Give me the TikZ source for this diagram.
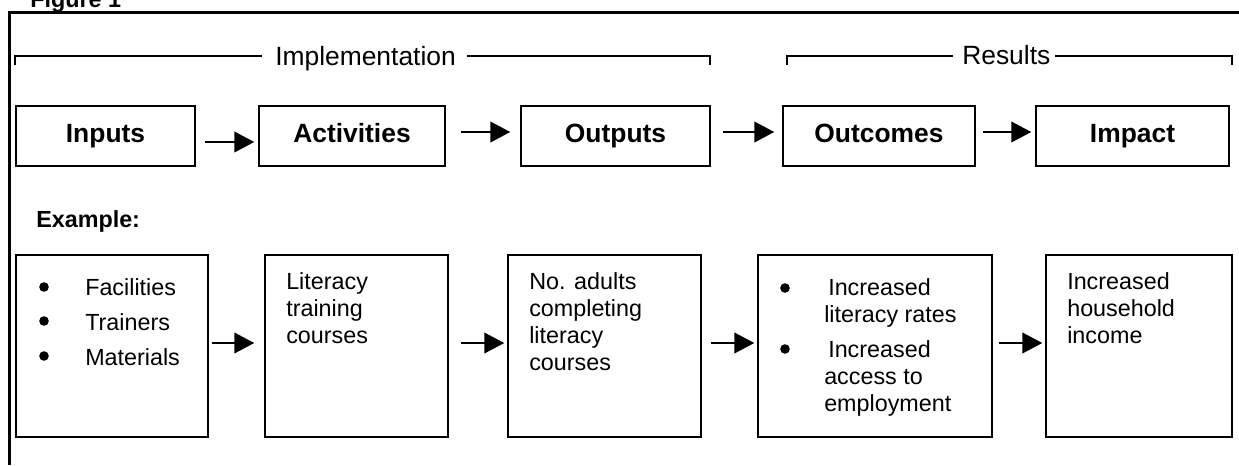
\documentclass[tikz,border=0pt]{standalone}
\usepackage{fontspec}
\setmainfont{Liberation Sans}
\usetikzlibrary{arrows.meta,calc,fit}
\begin{document}
\begin{tikzpicture}[x=0.75pt,y=-0.75pt,
 box/.style={draw, line width=1.1pt, inner sep=0pt},
 head/.style={font=\fontsize{19.8pt}{23pt}\selectfont, inner sep=0pt, anchor=base west},
 headb/.style={font=\fontsize{19.8pt}{23pt}\selectfont\bfseries, inner sep=0pt, anchor=base},
 body/.style={font=\fontsize{17.5pt}{20pt}\selectfont, inner sep=0pt, anchor=base west},
 bodyb/.style={font=\fontsize{17.5pt}{20pt}\selectfont\bfseries, inner sep=0pt, anchor=base west},
 arr/.style={line width=1.5pt, -{Triangle[length=15pt,width=15.5pt]}},
 brk/.style={line width=1pt},
 frame/.style={line width=2pt}
]
\useasboundingbox (0,0) rectangle (1239,465);

% outer frame and title
\draw[frame] (9.5,465) -- (9.5,12.5) -- (1239,12.5);
\node[bodyb] (fig) at (30,7) {Figure 1};

% brackets
\node[head] (impl) at (275,65) {Implementation};
\node[head] (res) at (962,64) {Results};
\coordinate (iL) at (15,65);
\coordinate (iR) at (710,65);
\coordinate (rL) at (787,65);
\coordinate (rR) at (1232,65);
\draw[brk] (iL) -- (15,56) -- (262,56);
\draw[brk] (467,56) -- (710,56) -- (iR);
\draw[brk] (rL) -- (787,56) -- (953,56);
\draw[brk] (1055,56) -- (1232,56) -- (rR);

% top boxes
\node[box, fit={(16,106)(195,166)}] (inp) {};
\node[box, fit={(259,106)(445,166)}] (act) {};
\node[box, fit={(521,106)(710,166)}] (outp) {};
\node[box, fit={(783,106)(975,166)}] (outc) {};
\node[box, fit={(1036,106)(1229,166)}] (imp) {};
\node[headb] (inpT) at ($(inp.center)+(0,6)$) {Inputs};
\node[headb] (actT) at ($(act.center)+(0,6)$) {Activities};
\node[headb] (outpT) at ($(outp.center)+(0,6)$) {Outputs};
\node[headb] (outcT) at ($(outc.center)+(0,6)$) {Outcomes};
\node[headb] (impT) at ($(imp.center)+(0,6)$) {Impact};

\draw[arr] ($(inp.east)+(9,6)$) -- ($(act.west)+(-4,6)$);
\draw[arr] ($(act.east)+(15,-4)$) -- ($(outp.west)+(-10,-4)$);
\draw[arr] ($(outp.east)+(12,-4)$) -- ($(outc.west)+(-8,-4)$);
\draw[arr] ($(outc.east)+(7,-4)$) -- ($(imp.west)+(-4,-4)$);

\node[bodyb] (ex) at (36,227) {Example:};

% bottom boxes
\node[box, fit={(16,255)(208,437)}] (ex1) {};
\node[box, fit={(265,255)(448,437)}] (ex2) {};
\node[box, fit={(508,255)(701,437)}] (ex3) {};
\node[box, fit={(758,255)(992,437)}] (ex4) {};
\node[box, fit={(1046,255)(1232,437)}] (ex5) {};

\draw[arr] ($(ex1.east)+(3,-3)$) -- ($(ex2.west)+(-10,-3)$);
\draw[arr] ($(ex2.east)+(12,-3)$) -- ($(ex3.west)+(-3,-3)$);
\draw[arr] ($(ex3.east)+(9,-3)$) -- ($(ex4.west)+(-3,-3)$);
\draw[arr] ($(ex4.east)+(6,-3)$) -- ($(ex5.west)+(-3,-3)$);

% box 1
\fill (44,287) circle[radius=3.6pt];
\fill (44,321) circle[radius=3.6pt];
\fill (44,356) circle[radius=3.6pt];
\node[body] (t11) at (85,295) {Facilities};
\node[body] (t12) at (85,330) {Trainers};
\node[body] (t13) at (85,365) {Materials};

% box 2
\node[body] (t21) at (286,289) {Literacy};
\node[body] (t22) at (286,316) {training};
\node[body] (t23) at (286,343) {courses};

% box 3
\node[body] (t31) at (529,289) {No. adults};
\node[body] (t32) at (529,316) {completing};
\node[body] (t33) at (529,343) {literacy};
\node[body] (t34) at (529,370) {courses};

% box 4
\fill (785,288) circle[radius=3.6pt];
\fill (785,349) circle[radius=3.6pt];
\node[body] (t41) at (828,295) {Increased};
\node[body] (t42) at (824,322) {literacy rates};
\node[body] (t43) at (828,357) {Increased};
\node[body] (t44) at (824,384) {access to};
\node[body] (t45) at (824,411) {employment};

% box 5
\node[body] (t51) at (1067,289) {Increased};
\node[body] (t52) at (1067,316) {household};
\node[body] (t53) at (1067,343) {income};
\end{tikzpicture}
\end{document}
